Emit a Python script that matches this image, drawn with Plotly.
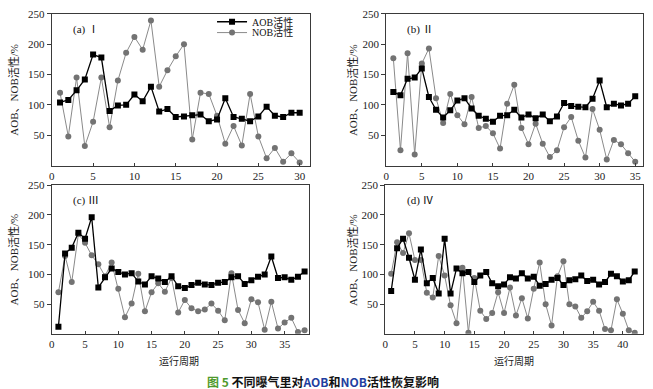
import plotly.graph_objects as go

# ---------------- data ----------------
aob_a = [104, 108, 124, 142, 183, 178, 90, 99, 100, 117, 106, 130, 89, 93, 80, 81, 83, 84, 73, 76,
         111, 80, 77, 73, 81, 97, 82, 80, 87, 87]
nob_a = [120, 48, 145, 32, 72, 145, 63, 140, 186, 212, 191, 239, 130, 157, 180, 200, 43, 120, 118, 82,
         36, 65, 33, 118, 48, 12, 29, 6, 20, 5]

aob_b = [121, 116, 143, 145, 160, 113, 92, 79, 91, 107, 111, 94, 82, 77, 72, 82, 83, 92, 79, 84,
         78, 84, 73, 81, 103, 98, 97, 96, 110, 140, 96, 102, 99, 102, 114]
nob_b = [177, 25, 185, 18, 168, 193, 111, 70, 118, 83, 68, 113, 62, 65, 53, 28, 102, 133, 62, 35,
         69, 36, 14, 25, 63, 80, 41, 13, 93, 59, 10, 42, 35, 20, 6]

aob_c = [12, 135, 145, 170, 160, 196, 78, 95, 110, 104, 100, 102, 88, 83, 97, 93, 87, 97, 80, 77,
         82, 86, 83, 82, 86, 87, 95, 97, 84, 90, 96, 100, 130, 94, 95, 91, 96, 105]
nob_c = [70, 131, 87, 168, 153, 132, 117, 97, 120, 76, 28, 51, 101, 38, 70, 85, 71, 94, 36, 57,
         43, 38, 41, 51, 39, 23, 102, 40, 18, 58, 53, 7, 54, 9, 19, 27, 3, 6]

aob_d = [72, 144, 160, 128, 91, 142, 85, 94, 68, 160, 68, 110, 102, 104, 87, 98, 104, 85, 80, 83,
         95, 93, 102, 93, 96, 81, 84, 91, 94, 82, 90, 92, 98, 89, 91, 83, 87, 101, 97, 88, 90, 105]
nob_d = [101, 154, 136, 169, 124, 124, 69, 61, 131, 98, 48, 18, 111, 2, 94, 39, 25, 35, 70, 35,
         78, 31, 60, 26, 76, 120, 50, 14, 97, 122, 50, 46, 27, 38, 54, 39, 8, 6, 58, 34, 6, 2]

panel_labels = ["(a) Ⅰ", "(b) Ⅱ", "(c) Ⅲ", "(d) Ⅳ"]
series_names = ["AOB活性", "NOB活性"]
y_title = "AOB、NOB活性/%"
x_title = "运行周期"
y_ticks = [50, 100, 150, 200, 250]

panels = [(aob_a, nob_a), (aob_b, nob_b), (aob_c, nob_c), (aob_d, nob_d)]

# ---------------- layout geometry ----------------
W, H = 653, 389
def px_x(a, b):
    return [a / W, b / W]
def px_y(top, bottom):
    return [1 - bottom / H, 1 - top / H]

x_domains = [px_x(49, 308), px_x(385, 643), px_x(49, 307), px_x(384, 643)]
y_domains = [px_y(8, 162), px_y(8, 162), px_y(182, 333), px_y(182, 333)]
x_ranges = [[0, 31.2], [0, 36.1], [0, 38.6], [0, 43.4]]

AOB_COLOR = "#000000"
NOB_LINE = "#8a8a8a"
NOB_MARK = "#737373"
SERIF = "Liberation Serif, 'Noto Sans CJK SC', serif"
AXIS_COLOR = "#3a3a3a"

fig = go.Figure()

for i, (aob, nob) in enumerate(panels):
    xs = list(range(1, len(aob) + 1))
    sfx = "" if i == 0 else str(i + 1)
    fig.add_trace(go.Scatter(
        x=xs, y=nob, mode="lines+markers", name=series_names[1],
        line=dict(color=NOB_LINE, width=1),
        marker=dict(symbol="circle", size=6, color=NOB_MARK),
        xaxis="x" + sfx, yaxis="y" + sfx, showlegend=(i == 0), legend="legend2"))
    fig.add_trace(go.Scatter(
        x=xs, y=aob, mode="lines+markers", name=series_names[0],
        line=dict(color=AOB_COLOR, width=1.3),
        marker=dict(symbol="square", size=6, color=AOB_COLOR),
        xaxis="x" + sfx, yaxis="y" + sfx, showlegend=(i == 0), legend="legend"))

legend_common = dict(x=210 / W, xanchor="left", yanchor="middle",
                     bgcolor="rgba(0,0,0,0)", borderwidth=0,
                     font=dict(size=10, family=SERIF, color="#111"), itemwidth=30)

layout = dict(
    width=W, height=H,
    margin=dict(l=0, r=0, t=0, b=0),
    paper_bgcolor="white", plot_bgcolor="white",
    font=dict(family=SERIF, size=11, color="#222"),
    showlegend=True,
    legend=dict(y=1 - 16 / H, **legend_common),
    legend2=dict(y=1 - 27 / H, **legend_common),
)

annotations = []
for i in range(4):
    sfx = "" if i == 0 else str(i + 1)
    layout["xaxis" + sfx] = dict(
        domain=x_domains[i], range=x_ranges[i], anchor="y" + sfx,
        tick0=0, dtick=5, ticks="inside", ticklen=3, tickcolor=AXIS_COLOR,
        showline=True, linecolor=AXIS_COLOR, linewidth=1, mirror=True,
        showgrid=False, zeroline=False,
        tickfont=dict(family=SERIF, size=11, color="#222"))
    layout["yaxis" + sfx] = dict(
        domain=y_domains[i], range=[0, 250], anchor="x" + sfx,
        tickvals=y_ticks, ticks="outside", ticklen=4, tickcolor=AXIS_COLOR,
        showline=True, linecolor=AXIS_COLOR, linewidth=1, mirror=True,
        showgrid=False, zeroline=False,
        tickfont=dict(family=SERIF, size=11, color="#222"))
    # panel label
    annotations.append(dict(
        text=panel_labels[i], xref="x" + sfx + " domain", yref="y" + sfx + " domain",
        x=0.075, y=0.9, xanchor="left", yanchor="middle", showarrow=False,
        font=dict(family=SERIF, size=11, color="#111")))
    # y title
    ytx = (11 if i in (0, 2) else 351) / W
    yc = sum(y_domains[i]) / 2
    annotations.append(dict(
        text=y_title, xref="paper", yref="paper", x=ytx, y=yc,
        xanchor="center", yanchor="middle", textangle=-90, showarrow=False,
        font=dict(family=SERIF, size=11, color="#222")))

# x titles
for cx in (177, 513):
    annotations.append(dict(
        text=x_title, xref="paper", yref="paper", x=cx / W, y=1 - 360 / H,
        xanchor="center", yanchor="middle", showarrow=False,
        font=dict(family="'Noto Sans CJK SC', sans-serif", size=10, color="#222")))

# caption
caption = ("<span style='color:#4f9a2c'>图 5</span> 不同曝气里对"
           "<span style='color:#1f3fa0'>AOB</span>和"
           "<span style='color:#1f3fa0'>NOB</span>活性恢复影响")
annotations.append(dict(
    text="<b>" + caption + "</b>", xref="paper", yref="paper", x=321 / W, y=1 - 381 / H,
    xanchor="center", yanchor="middle", showarrow=False,
    font=dict(family="'Noto Sans CJK SC', sans-serif", size=12, color="#111")))

layout["annotations"] = annotations
fig.update_layout(**layout)
fig.write_html("out.html", config={"displayModeBar": False},
               post_script="document.body.style.margin='0';")
